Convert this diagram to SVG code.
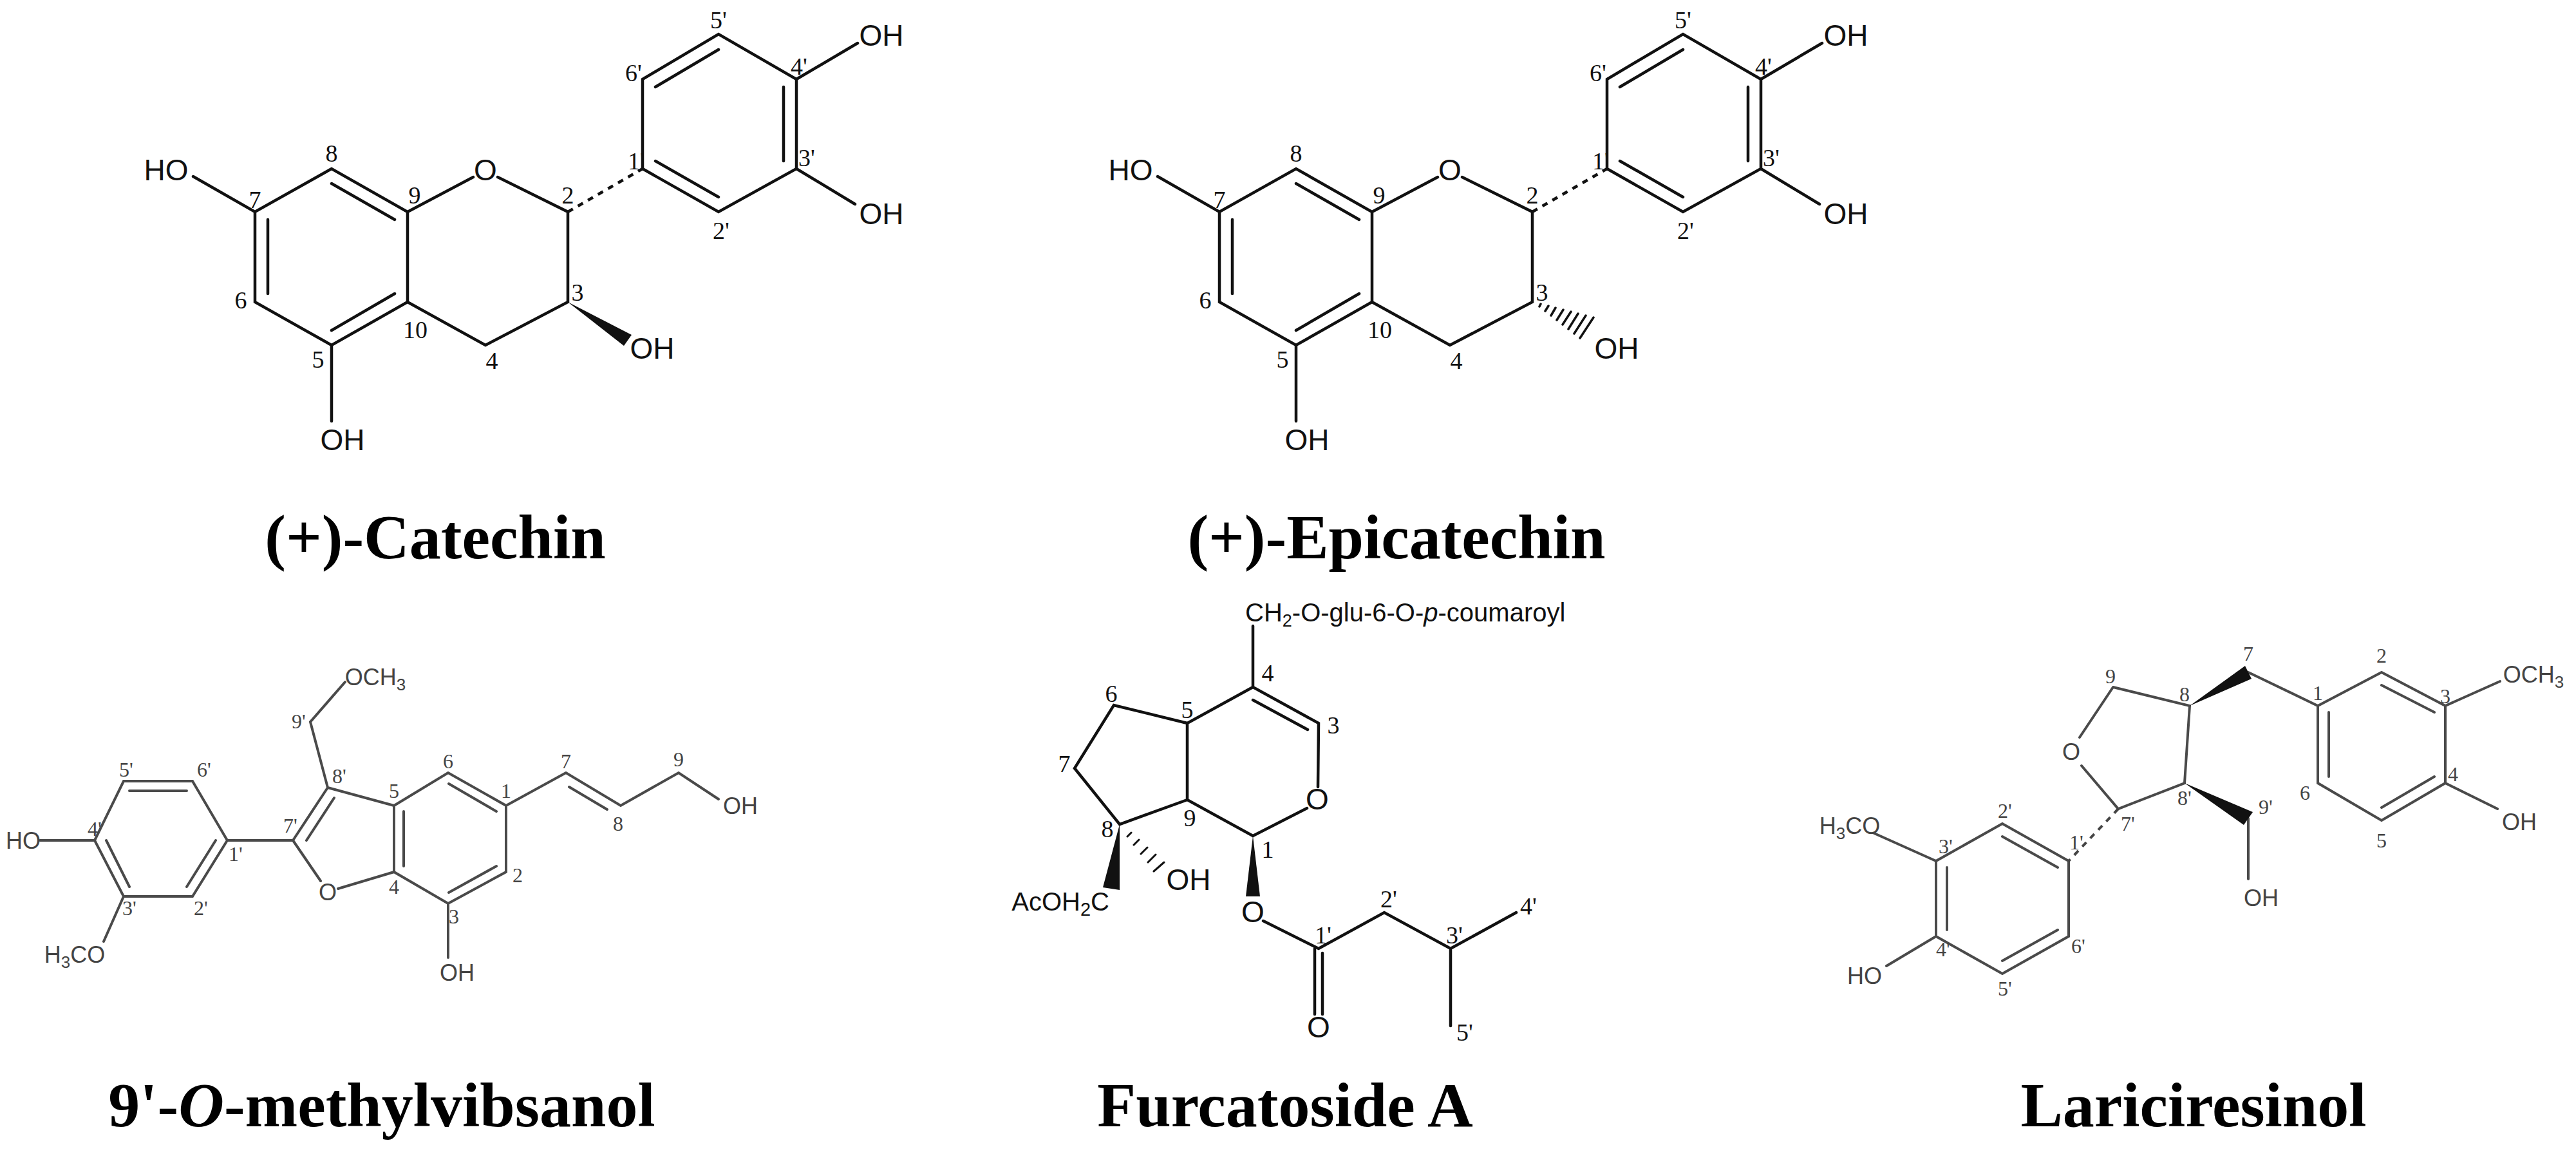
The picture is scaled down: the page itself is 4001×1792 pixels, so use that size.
<svg xmlns="http://www.w3.org/2000/svg" xmlns:xlink="http://www.w3.org/1999/xlink" width="4001" height="1792" viewBox="0 0 4001 1792">
<style>
.b{stroke:#111;stroke-width:4.5;fill:none;stroke-linecap:round}
.g{stroke:#4a4a4a;stroke-width:4;fill:none;stroke-linecap:round}
.d{stroke:#111;stroke-width:4.5;fill:none;stroke-dasharray:9 9}
.w{fill:#111;stroke:none}
.l{font-family:"Liberation Serif",serif;font-size:38px;text-anchor:middle;fill:#111}
.lg{font-family:"Liberation Serif",serif;font-size:32px;text-anchor:middle;fill:#444}
.a{font-family:"Liberation Sans",Arial,sans-serif;font-size:46px;text-anchor:middle;fill:#111}
.ag{font-family:"Liberation Sans",Arial,sans-serif;font-size:36px;text-anchor:middle;fill:#444}
.af{font-family:"Liberation Sans",Arial,sans-serif;font-size:40px;fill:#111}
.t{font-family:"Liberation Serif","Times New Roman",serif;font-size:98px;font-weight:bold;text-anchor:middle;fill:#000}
</style>
<defs>
<g id="flavan">
<path class="b" d="M300,274L396,329L515,262L633,329L633,469L515,536L396,469L396,329M416,341L416,456M515,285L613,341M515,513L613,456M633,329L735,275M773,275L882,329L882,469L754,536L633,469M515,536L515,654M998,262L998,123L1116,53L1237,123L1237,262L1116,329L998,262M1116,77L1018,135M1018,250L1116,306M1217,250L1217,135M1237,123L1332,67M1237,262L1328,317"/>
<path class="d" d="M882,329L998,262"/>
<text class="a" x="258" y="280">HO</text>
<text class="a" x="754" y="280">O</text>
<text class="a" x="532" y="699">OH</text>
<text class="a" x="1013" y="557">OH</text>
<text class="a" x="1369" y="71">OH</text>
<text class="a" x="1369" y="348">OH</text>
<text class="l" x="515" y="251">8</text><text class="l" x="396" y="323">7</text><text class="l" x="644" y="316">9</text>
<text class="l" x="374" y="479">6</text><text class="l" x="645" y="525">10</text><text class="l" x="494" y="571">5</text>
<text class="l" x="764" y="573">4</text><text class="l" x="897" y="467">3</text><text class="l" x="882" y="316">2</text>
<text class="l" x="988" y="263">1'</text><text class="l" x="1120" y="371">2'</text><text class="l" x="1253" y="258">3'</text>
<text class="l" x="1241" y="116">4'</text><text class="l" x="1116" y="44">5'</text><text class="l" x="984" y="126">6'</text>
</g>
</defs>
<g id="catechin">
<use xlink:href="#flavan"/>
<polygon class="w" points="882,469 969,537 981,520"/>
<text class="t" x="676" y="867">(+)-Catechin</text>
</g>
<g id="epicatechin">
<use xlink:href="#flavan" x="1498"/>
<g class="b" style="stroke-width:3.5">
<path d="M2391,476L2393,472M2400,483L2405,475M2409,490L2416,478M2418,497L2428,481M2427,504L2440,484M2436,511L2451,487M2445,518L2463,490M2454,525L2475,493"/>
</g>
<text class="t" x="2169" y="867">(+)-Epicatechin</text>
</g>
<g id="vibsanol">
<path class="g" d="M612,1251L696,1200L786,1251L786,1354L696,1403L612,1354L612,1251M627,1345L627,1260M697,1217L771,1260M771,1345L697,1386M509,1223L612,1251M455,1305L509,1223M476,1305L519,1239M455,1305L498,1368M525,1380L612,1354M509,1223L482,1121L536,1059M786,1251L879,1200L964,1251L1054,1200L1116,1241M884,1222L943,1257M696,1403L696,1487M455,1305L353,1305M353,1305L299,1213L192,1213L147,1305L192,1392L299,1392L353,1305M201,1228L290,1228M165,1305L201,1377M335,1305L290,1377M62,1305L147,1305M192,1392L161,1462"/>
<text class="ag" x="583" y="1064">OCH<tspan font-size="26" dy="8">3</tspan></text>
<text class="ag" x="509" y="1398">O</text>
<text class="ag" x="710" y="1523">OH</text>
<text class="ag" x="1150" y="1264">OH</text>
<text class="ag" x="36" y="1318">HO</text>
<text class="ag" x="116" y="1495">H<tspan font-size="26" dy="8">3</tspan><tspan dy="-8">CO</tspan></text>
<text class="lg" x="464" y="1131">9'</text><text class="lg" x="527" y="1216">8'</text><text class="lg" x="451" y="1293">7'</text>
<text class="lg" x="612" y="1239">5</text><text class="lg" x="696" y="1193">6</text><text class="lg" x="786" y="1239">1</text>
<text class="lg" x="804" y="1370">2</text><text class="lg" x="705" y="1434">3</text><text class="lg" x="612" y="1388">4</text>
<text class="lg" x="879" y="1193">7</text><text class="lg" x="960" y="1290">8</text><text class="lg" x="1054" y="1190">9</text>
<text class="lg" x="196" y="1206">5'</text><text class="lg" x="317" y="1206">6'</text><text class="lg" x="147" y="1298">4'</text>
<text class="lg" x="366" y="1337">1'</text><text class="lg" x="201" y="1421">3'</text><text class="lg" x="312" y="1421">2'</text>
<text class="t" x="593" y="1749">9'-<tspan font-style="italic">O</tspan>-methylvibsanol</text>
</g>
<g id="furcatoside">
<path class="b" d="M1946,972L1946,1067L2048,1123L2047,1222M1946,1087L2031,1133M2030,1255L1946,1298L1844,1242L1844,1123L1946,1067M1844,1123L1730,1095L1669,1193L1739,1280L1844,1242M1962,1430L2048,1473L2150,1417L2253,1473L2355,1417M2253,1473L2253,1593M2042,1473L2042,1575M2054,1480L2054,1575"/>
<polygon class="w" points="1946,1298 1935,1392 1957,1392"/>
<polygon class="w" points="1739,1280 1713,1378 1739,1382"/>
<path class="b" style="stroke-width:3" d="M1751,1299L1757,1293M1761,1312L1769,1304M1772,1326L1782,1316M1783,1339L1795,1327M1792,1353L1808,1339"/>
<text class="af" x="1934" y="965" font-size="38">CH<tspan font-size="27" dy="8">2</tspan><tspan dy="-8">-O-glu-6-O-</tspan><tspan font-style="italic">p</tspan>-coumaroyl</text>
<text class="af" x="1723" y="1414" text-anchor="end">AcOH<tspan font-size="29" dy="8">2</tspan><tspan dy="-8">C</tspan></text>
<text class="a" x="2046" y="1257" font-size="42">O</text>
<text class="a" x="1846" y="1382" font-size="42">OH</text>
<text class="a" x="1946" y="1432" font-size="42">O</text>
<text class="a" x="2048" y="1611" font-size="42">O</text>
<text class="l" x="1969" y="1058">4</text><text class="l" x="2071" y="1139">3</text><text class="l" x="1844" y="1115">5</text>
<text class="l" x="1726" y="1090">6</text><text class="l" x="1653" y="1199">7</text><text class="l" x="1720" y="1300">8</text>
<text class="l" x="1848" y="1283">9</text><text class="l" x="1969" y="1332">1</text><text class="l" x="2055" y="1465">1'</text>
<text class="l" x="2157" y="1409">2'</text><text class="l" x="2259" y="1465">3'</text><text class="l" x="2374" y="1420">4'</text>
<text class="l" x="2275" y="1616">5'</text>
<text class="t" x="1996" y="1749">Furcatoside A</text>
</g>
<g id="lariciresinol">
<path class="g" d="M3282,1067L3401,1096L3393,1216L3290,1256L3233,1189M3282,1067L3230,1145M3492,1044L3600,1096L3699,1044L3798,1096L3798,1216L3699,1274L3600,1216L3600,1096M3617,1106L3617,1206M3699,1064L3781,1106M3781,1206L3699,1254M3798,1096L3883,1058M3798,1216L3879,1256M3492,1271L3492,1365M3213,1337L3110,1279L3007,1337L3007,1454L3110,1512L3213,1454L3213,1337M3196,1347L3110,1299M3024,1347L3024,1444M3110,1492L3196,1444M3007,1337L2911,1294M3007,1454L2930,1500"/>
<path class="d" style="stroke:#444;stroke-width:4" d="M3290,1256L3213,1337"/>
<polygon class="w" points="3401,1096 3487,1034 3497,1054"/>
<polygon class="w" points="3393,1216 3485,1281 3499,1261"/>
<text class="ag" x="3217" y="1180">O</text>
<text class="ag" x="3935" y="1060">OCH<tspan font-size="26" dy="8">3</tspan></text>
<text class="ag" x="3913" y="1289">OH</text>
<text class="ag" x="3512" y="1407">OH</text>
<text class="ag" x="2873" y="1295">H<tspan font-size="26" dy="8">3</tspan><tspan dy="-8">CO</tspan></text>
<text class="ag" x="2896" y="1528">HO</text>
<text class="lg" x="3278" y="1061">9</text><text class="lg" x="3393" y="1089">8</text><text class="lg" x="3492" y="1026">7</text>
<text class="lg" x="3600" y="1087">1</text><text class="lg" x="3699" y="1029">2</text><text class="lg" x="3798" y="1092">3</text>
<text class="lg" x="3810" y="1213">4</text><text class="lg" x="3699" y="1316">5</text><text class="lg" x="3580" y="1242">6</text>
<text class="lg" x="3393" y="1250">8'</text><text class="lg" x="3519" y="1264">9'</text><text class="lg" x="3305" y="1290">7'</text>
<text class="lg" x="3225" y="1319">1'</text><text class="lg" x="3114" y="1270">2'</text><text class="lg" x="3022" y="1325">3'</text>
<text class="lg" x="3018" y="1485">4'</text><text class="lg" x="3114" y="1546">5'</text><text class="lg" x="3228" y="1480">6'</text>
<text class="t" x="3407" y="1749">Lariciresinol</text>
</g>
</svg>
